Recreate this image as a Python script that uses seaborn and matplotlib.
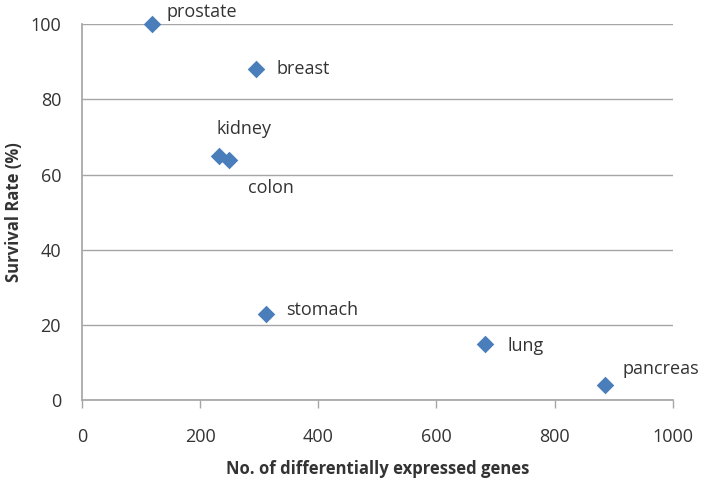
import pandas as pd
import matplotlib
matplotlib.use("Agg")
import matplotlib.pyplot as plt
import seaborn as sns

cancers = ["prostate", "breast", "kidney", "colon", "stomach", "lung", "pancreas"]
genes = [118, 294, 232, 249, 311, 682, 885]
survival = [100, 88, 65, 64, 23, 15, 4]
# label offsets in pixels from each point
label_dx = [15, 21, -2, 19, 20, 23, 18]
label_dy = [12, 0, 27, -28, 4, -2, 16]

df = pd.DataFrame({"cancer": cancers, "genes": genes, "survival": survival})

sns.set_theme(style="white")
plt.rcParams["font.family"] = ["Open Sans", "DejaVu Sans"]

fig = plt.figure(figsize=(7.06, 4.94), dpi=100)
ax = fig.add_axes([0.116, 0.190, 0.837, 0.761])

sns.scatterplot(data=df, x="genes", y="survival", marker="D", s=80,
                color="#4a7ebb", edgecolor="#4a7ebb", linewidth=0, ax=ax,
                zorder=3, clip_on=False)

for name, x, y, dx, dy in zip(cancers, genes, survival, label_dx, label_dy):
    ax.annotate(name, (x, y), xytext=(dx, dy), textcoords="offset pixels",
                ha="left", va="center", fontsize=13, color="#333333",
                annotation_clip=False)

ax.set_xlim(0, 1000)
ax.set_ylim(0, 100)
ax.set_xticks(range(0, 1001, 200))
ax.set_yticks(range(0, 101, 20))
ax.yaxis.grid(True, color="#a6a6a6", linewidth=1)
ax.set_axisbelow(True)
for side in ["top", "right"]:
    ax.spines[side].set_visible(False)
ax.spines["left"].set_color("#a6a6a6")
ax.spines["bottom"].set_color("#a6a6a6")
ax.tick_params(axis="x", bottom=True, length=6, width=1, color="#a6a6a6",
               labelsize=13, labelcolor="#333333", pad=14)
ax.tick_params(axis="y", left=False, labelsize=13, labelcolor="#333333", pad=9)

ax.set_xlabel("No. of differentially expressed genes", fontsize=12,
              fontweight="bold", color="#333333", labelpad=10)
ax.set_ylabel("Survival Rate (%)", fontsize=12, fontweight="bold",
              color="#333333", labelpad=5)

fig.savefig("out.png", dpi=100)
